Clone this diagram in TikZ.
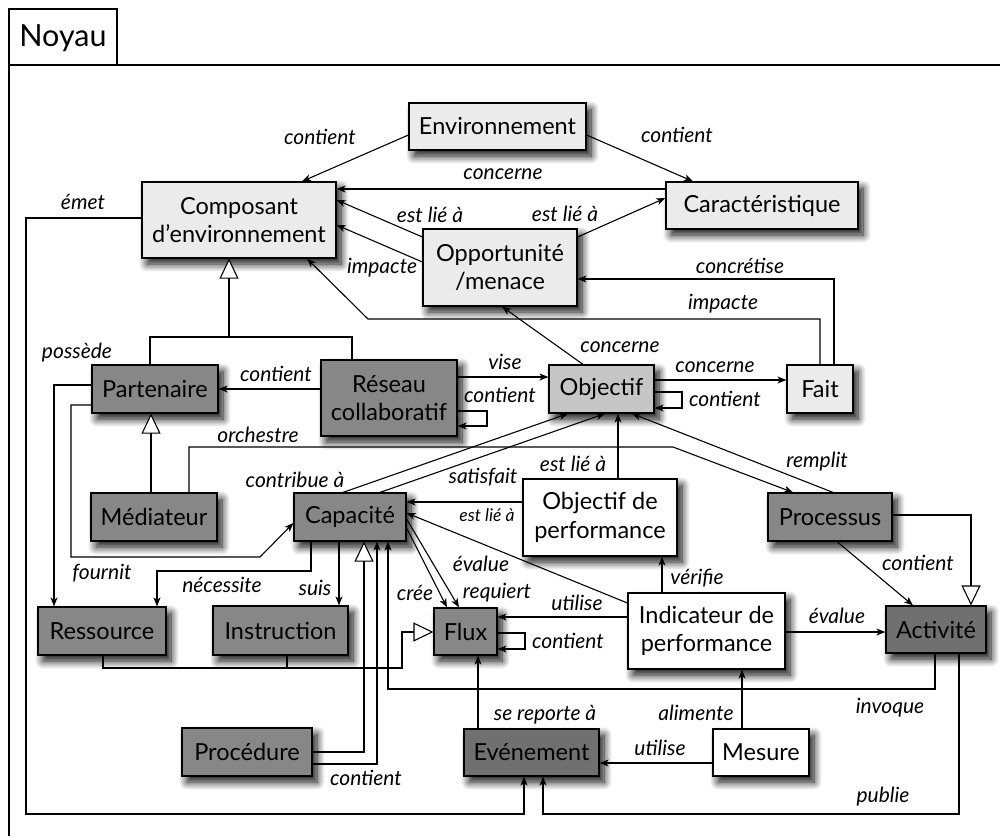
\documentclass[tikz,border=0pt]{standalone}
\usepackage{fontspec}
\setmainfont{Lato}
\usetikzlibrary{arrows.meta,shadows.blur}
\definecolor{lightc}{HTML}{EBEBEB}
\definecolor{midc}{HTML}{C6C6C6}
\definecolor{darkc}{HTML}{878787}
\definecolor{darkerc}{HTML}{707070}
\begin{document}
\begin{tikzpicture}[x=1pt,y=-1pt,
  box/.style={draw, line width=1.2pt, inner sep=0pt, align=center,
    font=\fontsize{23.5}{28.5}\selectfont,
    blur shadow={shadow xshift=5pt, shadow yshift=-6pt, shadow blur steps=10, shadow blur radius=8pt, shadow opacity=95}},
  light/.style={box, fill=lightc},
  mid/.style={box, fill=midc},
  dark/.style={box, fill=darkc},
  darker/.style={box, fill=darkerc},
  plain/.style={box, fill=white},
  lab/.style={font=\fontsize{21}{23}\selectfont\itshape, inner sep=1pt},
  slab/.style={font=\fontsize{17.5}{19}\selectfont\itshape, inner sep=1pt},
  arr/.style={line width=1.1pt, line join=miter, -{Stealth[length=9pt,width=7pt,inset=2.5pt]}},
  gen/.style={line width=1.1pt, line join=miter, -{Triangle[fill=white,length=20pt,width=19pt]}},
  ln/.style={line width=1.1pt, line join=miter}]
\useasboundingbox (0,0) rectangle (1000,836);
% package frame
\draw[line width=1.3pt] (9,836) -- (9,65) -- (1000,65);
\draw[line width=1.3pt] (9,65) -- (9,9) -- (117,9) -- (117,65);
\node[font=\fontsize{30.5}{33}\selectfont] (title) at (63,38) {Noyau};
% nodes
\node[light, minimum width=177pt, minimum height=47pt] (env) at (497.5,126.5) {Environnement};
\node[light, minimum width=194pt, minimum height=76pt] (comp) at (239,220) {Composant\\d’environnement};
\node[light, minimum width=192pt, minimum height=47pt] (car) at (762,205.5) {Caractéristique};
\node[light, minimum width=154pt, minimum height=77pt] (opp) at (500,267.5) {Opportunité\\/menace};
\node[mid, minimum width=105pt, minimum height=48pt] (obj) at (601.5,389) {Objectif};
\node[light, minimum width=66pt, minimum height=48pt] (fait) at (820,389) {Fait};
\node[dark, minimum width=126pt, minimum height=48pt] (part) at (155,389) {Partenaire};
\node[dark, minimum width=136pt, minimum height=76pt] (res) at (389,398) {Réseau\\collaboratif};
\node[dark, minimum width=126pt, minimum height=48pt] (med) at (154,517) {Médiateur};
\node[dark, minimum width=112pt, minimum height=48pt] (cap) at (350,517) {Capacité};
\node[plain, minimum width=154pt, minimum height=77pt] (odp) at (600,517.5) {Objectif de\\performance};
\node[dark, minimum width=124pt, minimum height=48pt] (proc) at (830,517) {Processus};
\node[dark, minimum width=128pt, minimum height=48pt] (ress) at (102,631) {Ressource};
\node[dark, minimum width=135pt, minimum height=49pt] (instr) at (280.5,630.5) {Instruction};
\node[dark, minimum width=63pt, minimum height=47pt] (flux) at (465.5,631.5) {Flux};
\node[plain, minimum width=157pt, minimum height=76pt] (idp) at (706.5,631) {Indicateur de\\performance};
\node[darker, minimum width=100pt, minimum height=47pt] (act) at (936,629.5) {Activité};
\node[dark, minimum width=130pt, minimum height=48pt] (procd) at (247,752) {Procédure};
\node[darker, minimum width=135pt, minimum height=47pt] (evt) at (531.5,752.5) {Evénement};
\node[plain, minimum width=96pt, minimum height=47pt] (mes) at (761,752.5) {Mesure};
% connectors
\draw[arr] (env.west |- 0,135) -- (comp.north -| 302,0);
\draw[arr] (env.east |- 0,135) -- (car.north -| 693,0);
\draw[arr] (car.west |- 0,189) -- (comp.east |- 0,189);
\draw[arr] (opp.west |- 0,237) -- (comp.east |- 0,200);
\draw[arr] (opp.west |- 0,262) -- (comp.east |- 0,225);
\draw[arr] (opp.east |- 0,237) -- (car.west |- 0,198);
\draw[arr] (fait.north -| 834,0) -- (834,279) -- (opp.east |- 0,279);
\draw[arr] (fait.north -| 820,0) -- (820,319) -- (368,319) -- (comp.south -| 307,0);
\draw[arr] (obj.north -| 583,0) -- (opp.south -| 502,0);
\draw[arr] (obj.east |- 0,380) -- (fait.west |- 0,380);
\draw[arr] (obj.east |- 0,392) -- (682,392) -- (682,408) -- (obj.east |- 0,408);
\draw[arr] (res.west |- 0,389) -- (part.east |- 0,389);
\draw[arr] (res.east |- 0,411) -- (487,411) -- (487,426) -- (res.east |- 0,426);
\draw[arr] (res.east |- 0,377) -- (obj.west |- 0,377);
\draw[gen] (part.north -| 150,0) -- (150,337) -- (229,337) -- (comp.south -| 229,0);
\draw[ln] (res.north -| 352,0) -- (352,337) -- (229,337);
\draw[gen] (med.north -| 151,0) -- (part.south -| 151,0);
\draw[arr] (med.north -| 189,0) -- (189,447) -- (673,447) -- (proc.north -| 793,0);
\draw[arr] (part.west |- 0,385) -- (54,385) -- (ress.north -| 54,0);
\draw[arr] (part.west |- 0,405) -- (71,405) -- (71,557) -- (260,557) -- (cap.west |- 0,523);
\draw[arr] (cap.north -| 343,0) -- (obj.south -| 568,0);
\draw[arr] (cap.north -| 380,0) -- (obj.south -| 605,0);
\draw[arr] (odp.north -| 618,0) -- (obj.south -| 618,0);
\draw[arr] (proc.north -| 833,0) -- (obj.south -| 632,0);
\draw[arr] (odp.west |- 0,502) -- (cap.east |- 0,502);
\draw[arr] (idp.west |- 0,603) -- (cap.east |- 0,513);
\draw[arr] (idp.north -| 662,0) -- (odp.south -| 662,0);
\draw[arr] (idp.west |- 0,617) -- (flux.east |- 0,617);
\draw[arr] (idp.east |- 0,632) -- (act.west |- 0,632);
\draw[arr] (proc.south -| 837,0) -- (act.north -| 913,0);
\draw[gen] (proc.east |- 0,515) -- (971,515) -- (act.north -| 971,0);
\draw[arr] (act.south -| 935,0) -- (935,689) -- (388,689) -- (cap.south -| 388,0);
\draw[arr] (act.south -| 959,0) -- (959,814) -- (543,814) -- (evt.south -| 543,0);
\draw[arr] (comp.west |- 0,218) -- (26,218) -- (26,814) -- (524,814) -- (evt.south -| 524,0);
\draw[arr] (cap.south -| 311,0) -- (311,571) -- (157,571) -- (ress.north -| 157,0);
\draw[arr] (cap.south -| 339,0) -- (instr.north -| 339,0);
\draw[arr] (cap.east |- 0,528) -- (flux.north -| 447,0);
\draw[arr] (cap.east |- 0,519) -- (flux.north -| 459,0);
\draw[gen] (ress.south -| 103,0) -- (103,668) -- (402,668) -- (402,632) -- (flux.west |- 0,632);
\draw[ln] (instr.south -| 287,0) -- (287,668);
\draw[arr] (flux.east |- 0,633) -- (525,633) -- (525,649) -- (flux.east |- 0,649);
\draw[arr] (evt.north -| 478,0) -- (flux.south -| 478,0);
\draw[arr] (mes.north -| 742,0) -- (idp.south -| 742,0);
\draw[arr] (mes.west |- 0,763) -- (evt.east |- 0,763);
\draw[gen] (procd.east |- 0,752) -- (364,752) -- (cap.south -| 364,0);
\draw[arr] (procd.east |- 0,764) -- (377,764) -- (cap.south -| 377,0);
% labels
\node[lab] (l1) at (320,137) {contient};
\node[lab] (l2) at (677,135) {contient};
\node[lab] (l3) at (503,174) {concerne};
\node[lab] (l4) at (430,215) {est lié à};
\node[lab] (l5) at (565,214) {est lié à};
\node[lab] (l6) at (382,268) {impacte};
\node[lab] (l7) at (83,202) {émet};
\node[lab] (l8) at (740,266) {concrétise};
\node[lab] (l9) at (723,304) {impacte};
\node[lab] (l10) at (77,353) {possède};
\node[lab] (l11) at (276,374) {contient};
\node[lab] (l12) at (505,362) {vise};
\node[lab] (l13) at (500,395) {contient};
\node[lab] (l14) at (620,347) {concerne};
\node[lab] (l15) at (715,367) {concerne};
\node[lab] (l16) at (725,399) {contient};
\node[lab] (l17) at (258,435) {orchestre};
\node[lab] (l18) at (295,480) {contribue à};
\node[lab] (l19) at (483,477) {satisfait};
\node[lab] (l20) at (573,464) {est lié à};
\node[lab] (l21) at (817,462) {remplit};
\node[slab] (l22) at (487,515) {est lié à};
\node[lab] (l23) at (481,564) {évalue};
\node[lab] (l24) at (415,593) {crée};
\node[lab] (l25) at (497,593) {requiert};
\node[lab] (l26) at (102,573) {fournit};
\node[lab] (l27) at (222,585) {nécessite};
\node[lab] (l28) at (315,588) {suis};
\node[lab] (l29) at (577,603) {utilise};
\node[lab] (l30) at (568,641) {contient};
\node[lab] (l31) at (697,578) {vérifie};
\node[lab] (l32) at (837,616) {évalue};
\node[lab] (l33) at (918,563) {contient};
\node[lab] (l34) at (545,715) {se reporte à};
\node[lab] (l35) at (696,713) {alimente};
\node[lab] (l36) at (660,748) {utilise};
\node[lab] (l37) at (890,708) {invoque};
\node[lab] (l38) at (883,797) {publie};
\node[lab] (l39) at (366,778) {contient};
\end{tikzpicture}
\end{document}
